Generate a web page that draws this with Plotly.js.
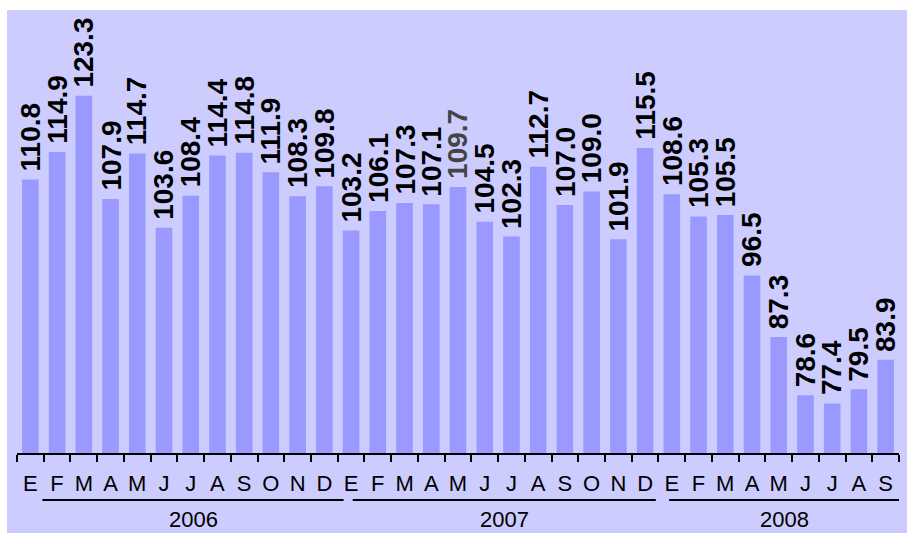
<!DOCTYPE html>
<html>
<head>
<meta charset="utf-8">
<script src="https://cdn.plot.ly/plotly-3.0.1.min.js"></script>
<style>
html,body{margin:0;padding:0;background:#ffffff;width:907px;height:533px;overflow:hidden;}
#chart{position:absolute;left:7px;top:10px;width:900px;height:523px;}
</style>
</head>
<body>
<div id="chart"></div>
<script>
const monthLabels = ['E','F','M','A','M','J','J','A','S','O','N','D',
                     'E','F','M','A','M','J','J','A','S','O','N','D',
                     'E','F','M','A','M','J','J','A','S'];
const values = [110.8,114.9,123.3,107.9,114.7,103.6,108.4,114.4,114.8,111.9,108.3,109.8,
                103.2,106.1,107.3,107.1,109.7,104.5,102.3,112.7,107.0,109.0,101.9,115.5,
                108.6,105.3,105.5,96.5,87.3,78.6,77.4,79.5,83.9];
const years = ['2006','2007','2008'];

const xs = values.map((v,i)=>i);
const labelColors = values.map((v,i)=> i===16 ? '#444444' : '#000000');

const boundaries = [];
for (let i=0;i<=values.length;i++) boundaries.push(i-0.5);

const annotations = values.map((v,i)=>({
  x: xs[i], y: v, xref:'x', yref:'y',
  text: v.toFixed(1), showarrow:false, textangle:-90,
  yanchor:'bottom', xanchor:'center', yshift:6,
  font:{family:'Liberation Sans, Arial, sans-serif', size:28, color:labelColors[i], weight:700}
}));

const lineSegs = [[0.45,11.72],[12.06,23.4],[23.9,32.5]];
const shapes = [];
years.forEach((y,k)=>{
  shapes.push({type:'line', xref:'x', yref:'paper', x0:lineSegs[k][0], x1:lineSegs[k][1],
    y0:-0.106, y1:-0.106, line:{color:'#000000', width:2}});
  annotations.push({x:(lineSegs[k][0]+lineSegs[k][1])/2, xref:'x', y:-0.151, yref:'paper',
    text:y, showarrow:false, xanchor:'center', yanchor:'middle',
    font:{family:'Liberation Sans, Arial, sans-serif', size:22, color:'#000000'}});
});

const trace = {
  type:'bar', x:xs, y:values,
  marker:{color:'#9999FF', line:{width:0}},
  hoverinfo:'none'
};

const layout = {
  width:900, height:523,
  margin:{l:10, r:8, t:0, b:80},
  paper_bgcolor:'#CCCCFF', plot_bgcolor:'#CCCCFF',
  bargap:0.38,
  showlegend:false,
  xaxis:{
    range:[-0.5,32.5], tickmode:'array', tickvals:xs, ticktext:monthLabels,
    ticks:'', showgrid:false, zeroline:false,
    showline:true, linecolor:'#000000', linewidth:2,
    tickfont:{family:'Liberation Sans, Arial, sans-serif', size:22, color:'#000000'},
    ticklabelstandoff:10,
    minor:{tickmode:'array', tickvals:boundaries, ticks:'outside', ticklen:7, tickwidth:2, tickcolor:'#000000', showgrid:false}
  },
  yaxis:{range:[70,136.1], visible:false, showgrid:false, zeroline:false, fixedrange:true},
  annotations:annotations,
  shapes:shapes
};

Plotly.newPlot('chart',[trace],layout,{displayModeBar:false, staticPlot:true});
</script>
</body>
</html>
